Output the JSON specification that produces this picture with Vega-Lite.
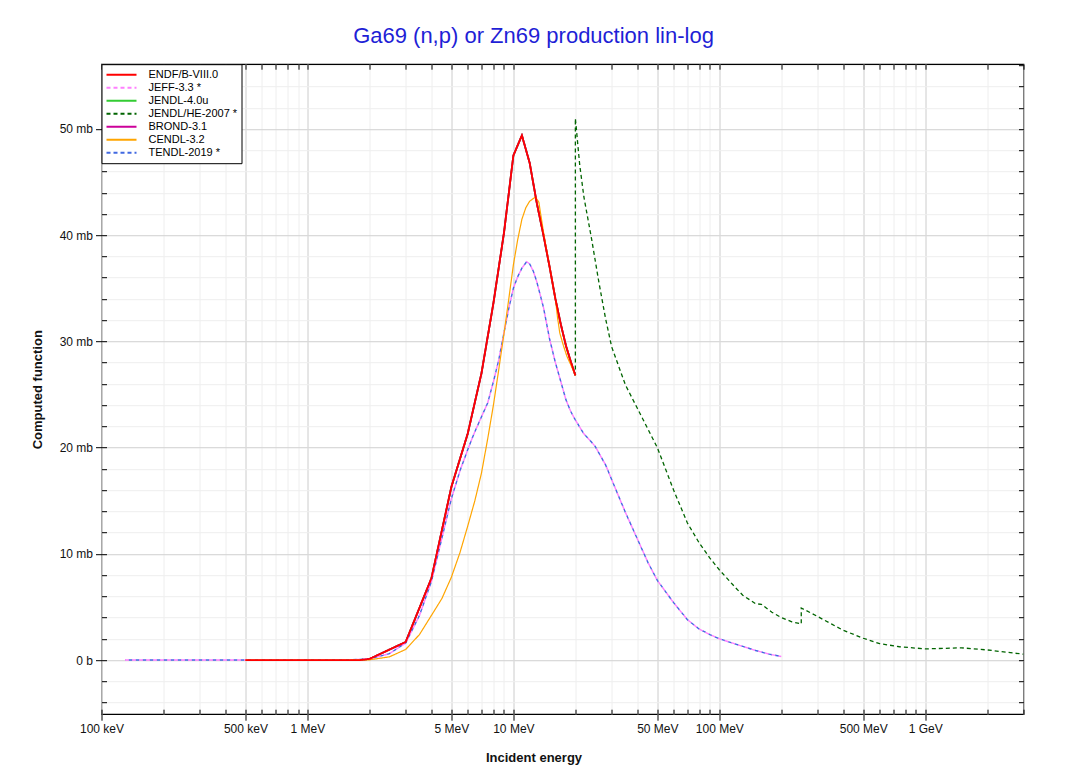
{
  "$schema": "https://vega.github.io/schema/vega-lite/v6.json",
  "width": 922,
  "height": 650,
  "autosize": {"type": "none"},
  "padding": {"left": 101.5, "top": 64.2, "right": 43.5, "bottom": 59.8},
  "background": "white",
  "title": {"text": "Ga69 (n,p) or Zn69 production lin-log", "font": "Liberation Sans", "fontSize": 22, "fontWeight": "normal", "color": "#1f1fd6", "anchor": "middle", "frame": "group", "dx": -29, "offset": 16},
  "data": {"values": [
    {"s": "ENDF/B-VIII.0", "e": 0.5, "v": 0}, {"s": "ENDF/B-VIII.0", "e": 1, "v": 0}, {"s": "ENDF/B-VIII.0", "e": 1.5, "v": 0}, {"s": "ENDF/B-VIII.0", "e": 1.8, "v": 0}, {"s": "ENDF/B-VIII.0", "e": 2, "v": 0.1}, {"s": "ENDF/B-VIII.0", "e": 3, "v": 1.7}, {"s": "ENDF/B-VIII.0", "e": 4, "v": 7.7}, {"s": "ENDF/B-VIII.0", "e": 5, "v": 16.3}, {"s": "ENDF/B-VIII.0", "e": 6, "v": 21.3}, {"s": "ENDF/B-VIII.0", "e": 7, "v": 27.0}, {"s": "ENDF/B-VIII.0", "e": 8, "v": 33.6}, {"s": "ENDF/B-VIII.0", "e": 9, "v": 40.2}, {"s": "ENDF/B-VIII.0", "e": 10, "v": 47.5}, {"s": "ENDF/B-VIII.0", "e": 11, "v": 49.4}, {"s": "ENDF/B-VIII.0", "e": 12, "v": 46.8}, {"s": "ENDF/B-VIII.0", "e": 13, "v": 43.0}, {"s": "ENDF/B-VIII.0", "e": 14, "v": 40.0}, {"s": "ENDF/B-VIII.0", "e": 15, "v": 37.0}, {"s": "ENDF/B-VIII.0", "e": 16, "v": 34.0}, {"s": "ENDF/B-VIII.0", "e": 17, "v": 31.6}, {"s": "ENDF/B-VIII.0", "e": 18, "v": 29.6}, {"s": "ENDF/B-VIII.0", "e": 19, "v": 28.1}, {"s": "ENDF/B-VIII.0", "e": 20, "v": 26.8},

    {"s": "JENDL-4.0u", "e": 0.5, "v": 0}, {"s": "JENDL-4.0u", "e": 1, "v": 0}, {"s": "JENDL-4.0u", "e": 1.5, "v": 0}, {"s": "JENDL-4.0u", "e": 1.8, "v": 0}, {"s": "JENDL-4.0u", "e": 2, "v": 0.1}, {"s": "JENDL-4.0u", "e": 3, "v": 1.7}, {"s": "JENDL-4.0u", "e": 4, "v": 7.7}, {"s": "JENDL-4.0u", "e": 5, "v": 16.3}, {"s": "JENDL-4.0u", "e": 6, "v": 21.3}, {"s": "JENDL-4.0u", "e": 7, "v": 27.0}, {"s": "JENDL-4.0u", "e": 8, "v": 33.6}, {"s": "JENDL-4.0u", "e": 9, "v": 40.2}, {"s": "JENDL-4.0u", "e": 10, "v": 47.5}, {"s": "JENDL-4.0u", "e": 11, "v": 49.4}, {"s": "JENDL-4.0u", "e": 12, "v": 46.8}, {"s": "JENDL-4.0u", "e": 13, "v": 43.0}, {"s": "JENDL-4.0u", "e": 14, "v": 40.0}, {"s": "JENDL-4.0u", "e": 15, "v": 37.0}, {"s": "JENDL-4.0u", "e": 16, "v": 34.0}, {"s": "JENDL-4.0u", "e": 17, "v": 31.6}, {"s": "JENDL-4.0u", "e": 18, "v": 29.6}, {"s": "JENDL-4.0u", "e": 19, "v": 28.1}, {"s": "JENDL-4.0u", "e": 20, "v": 26.8},

    {"s": "BROND-3.1", "e": 0.5, "v": 0}, {"s": "BROND-3.1", "e": 1, "v": 0}, {"s": "BROND-3.1", "e": 1.5, "v": 0}, {"s": "BROND-3.1", "e": 1.8, "v": 0}, {"s": "BROND-3.1", "e": 2, "v": 0.1}, {"s": "BROND-3.1", "e": 3, "v": 1.7}, {"s": "BROND-3.1", "e": 4, "v": 7.7}, {"s": "BROND-3.1", "e": 5, "v": 16.3}, {"s": "BROND-3.1", "e": 6, "v": 21.3}, {"s": "BROND-3.1", "e": 7, "v": 27.0}, {"s": "BROND-3.1", "e": 8, "v": 33.6}, {"s": "BROND-3.1", "e": 9, "v": 40.2}, {"s": "BROND-3.1", "e": 10, "v": 47.5}, {"s": "BROND-3.1", "e": 11, "v": 49.4}, {"s": "BROND-3.1", "e": 12, "v": 46.8}, {"s": "BROND-3.1", "e": 13, "v": 43.0}, {"s": "BROND-3.1", "e": 14, "v": 40.0}, {"s": "BROND-3.1", "e": 15, "v": 37.0}, {"s": "BROND-3.1", "e": 16, "v": 34.0}, {"s": "BROND-3.1", "e": 17, "v": 31.6}, {"s": "BROND-3.1", "e": 18, "v": 29.6}, {"s": "BROND-3.1", "e": 19, "v": 28.1}, {"s": "BROND-3.1", "e": 20, "v": 26.8},

    {"s": "JENDL/HE-2007 *", "i": 0, "e": 0.5, "v": 0}, {"s": "JENDL/HE-2007 *", "i": 1, "e": 1, "v": 0}, {"s": "JENDL/HE-2007 *", "i": 2, "e": 1.5, "v": 0}, {"s": "JENDL/HE-2007 *", "i": 3, "e": 1.8, "v": 0}, {"s": "JENDL/HE-2007 *", "i": 4, "e": 2, "v": 0.1}, {"s": "JENDL/HE-2007 *", "i": 5, "e": 3, "v": 1.7}, {"s": "JENDL/HE-2007 *", "i": 6, "e": 4, "v": 7.7}, {"s": "JENDL/HE-2007 *", "i": 7, "e": 5, "v": 16.3}, {"s": "JENDL/HE-2007 *", "i": 8, "e": 6, "v": 21.3}, {"s": "JENDL/HE-2007 *", "i": 9, "e": 7, "v": 27.0}, {"s": "JENDL/HE-2007 *", "i": 10, "e": 8, "v": 33.6}, {"s": "JENDL/HE-2007 *", "i": 11, "e": 9, "v": 40.2}, {"s": "JENDL/HE-2007 *", "i": 12, "e": 10, "v": 47.5}, {"s": "JENDL/HE-2007 *", "i": 13, "e": 11, "v": 49.4}, {"s": "JENDL/HE-2007 *", "i": 14, "e": 12, "v": 46.8}, {"s": "JENDL/HE-2007 *", "i": 15, "e": 13, "v": 43.0}, {"s": "JENDL/HE-2007 *", "i": 16, "e": 14, "v": 40.0}, {"s": "JENDL/HE-2007 *", "i": 17, "e": 15, "v": 37.0}, {"s": "JENDL/HE-2007 *", "i": 18, "e": 16, "v": 34.0}, {"s": "JENDL/HE-2007 *", "i": 19, "e": 17, "v": 31.6}, {"s": "JENDL/HE-2007 *", "i": 20, "e": 18, "v": 29.6}, {"s": "JENDL/HE-2007 *", "i": 21, "e": 19, "v": 28.1}, {"s": "JENDL/HE-2007 *", "i": 22, "e": 20, "v": 26.8},
    {"s": "JENDL/HE-2007 *", "i": 23, "e": 20, "v": 51.0}, {"s": "JENDL/HE-2007 *", "i": 24, "e": 21, "v": 46.6}, {"s": "JENDL/HE-2007 *", "i": 25, "e": 22, "v": 43.6}, {"s": "JENDL/HE-2007 *", "i": 26, "e": 24, "v": 39.6}, {"s": "JENDL/HE-2007 *", "i": 27, "e": 26, "v": 35.6}, {"s": "JENDL/HE-2007 *", "i": 28, "e": 28, "v": 32.2}, {"s": "JENDL/HE-2007 *", "i": 29, "e": 30, "v": 29.5}, {"s": "JENDL/HE-2007 *", "i": 30, "e": 35, "v": 25.9}, {"s": "JENDL/HE-2007 *", "i": 31, "e": 40, "v": 23.7}, {"s": "JENDL/HE-2007 *", "i": 32, "e": 50, "v": 20.0}, {"s": "JENDL/HE-2007 *", "i": 33, "e": 60, "v": 16.0}, {"s": "JENDL/HE-2007 *", "i": 34, "e": 70, "v": 12.9}, {"s": "JENDL/HE-2007 *", "i": 35, "e": 80, "v": 11.0}, {"s": "JENDL/HE-2007 *", "i": 36, "e": 90, "v": 9.6}, {"s": "JENDL/HE-2007 *", "i": 37, "e": 100, "v": 8.5}, {"s": "JENDL/HE-2007 *", "i": 38, "e": 120, "v": 6.8}, {"s": "JENDL/HE-2007 *", "i": 39, "e": 130, "v": 6.1}, {"s": "JENDL/HE-2007 *", "i": 40, "e": 150, "v": 5.3}, {"s": "JENDL/HE-2007 *", "i": 41, "e": 160, "v": 5.25}, {"s": "JENDL/HE-2007 *", "i": 42, "e": 180, "v": 4.5}, {"s": "JENDL/HE-2007 *", "i": 43, "e": 200, "v": 4.0}, {"s": "JENDL/HE-2007 *", "i": 44, "e": 225, "v": 3.6}, {"s": "JENDL/HE-2007 *", "i": 45, "e": 250, "v": 3.4}, {"s": "JENDL/HE-2007 *", "i": 46, "e": 250, "v": 4.9}, {"s": "JENDL/HE-2007 *", "i": 47, "e": 300, "v": 4.1}, {"s": "JENDL/HE-2007 *", "i": 48, "e": 350, "v": 3.4}, {"s": "JENDL/HE-2007 *", "i": 49, "e": 400, "v": 2.8}, {"s": "JENDL/HE-2007 *", "i": 50, "e": 500, "v": 2.05}, {"s": "JENDL/HE-2007 *", "i": 51, "e": 600, "v": 1.55}, {"s": "JENDL/HE-2007 *", "i": 52, "e": 750, "v": 1.25}, {"s": "JENDL/HE-2007 *", "i": 53, "e": 1000, "v": 1.05}, {"s": "JENDL/HE-2007 *", "i": 54, "e": 1500, "v": 1.15}, {"s": "JENDL/HE-2007 *", "i": 55, "e": 2000, "v": 0.95}, {"s": "JENDL/HE-2007 *", "i": 56, "e": 3000, "v": 0.55},

    {"s": "JEFF-3.3 *", "e": 0.13, "v": 0}, {"s": "JEFF-3.3 *", "e": 0.5, "v": 0}, {"s": "JEFF-3.3 *", "e": 1, "v": 0}, {"s": "JEFF-3.3 *", "e": 1.5, "v": 0}, {"s": "JEFF-3.3 *", "e": 2, "v": 0.1}, {"s": "JEFF-3.3 *", "e": 2.5, "v": 0.6}, {"s": "JEFF-3.3 *", "e": 3, "v": 1.6}, {"s": "JEFF-3.3 *", "e": 3.5, "v": 4.2}, {"s": "JEFF-3.3 *", "e": 4, "v": 7.4}, {"s": "JEFF-3.3 *", "e": 4.5, "v": 11.5}, {"s": "JEFF-3.3 *", "e": 5, "v": 15.2}, {"s": "JEFF-3.3 *", "e": 5.5, "v": 17.8}, {"s": "JEFF-3.3 *", "e": 6, "v": 19.8}, {"s": "JEFF-3.3 *", "e": 6.5, "v": 21.5}, {"s": "JEFF-3.3 *", "e": 7, "v": 22.9}, {"s": "JEFF-3.3 *", "e": 7.5, "v": 24.2}, {"s": "JEFF-3.3 *", "e": 8, "v": 26.2}, {"s": "JEFF-3.3 *", "e": 8.5, "v": 28.3}, {"s": "JEFF-3.3 *", "e": 9, "v": 30.8}, {"s": "JEFF-3.3 *", "e": 9.5, "v": 33.1}, {"s": "JEFF-3.3 *", "e": 10, "v": 35.0}, {"s": "JEFF-3.3 *", "e": 10.5, "v": 36.1}, {"s": "JEFF-3.3 *", "e": 11, "v": 36.9}, {"s": "JEFF-3.3 *", "e": 11.6, "v": 37.5}, {"s": "JEFF-3.3 *", "e": 12, "v": 37.3}, {"s": "JEFF-3.3 *", "e": 12.5, "v": 36.6}, {"s": "JEFF-3.3 *", "e": 13, "v": 35.6}, {"s": "JEFF-3.3 *", "e": 14, "v": 33.2}, {"s": "JEFF-3.3 *", "e": 15, "v": 30.2}, {"s": "JEFF-3.3 *", "e": 16, "v": 28.0}, {"s": "JEFF-3.3 *", "e": 17, "v": 26.2}, {"s": "JEFF-3.3 *", "e": 18, "v": 24.5}, {"s": "JEFF-3.3 *", "e": 19, "v": 23.4}, {"s": "JEFF-3.3 *", "e": 20, "v": 22.6}, {"s": "JEFF-3.3 *", "e": 22, "v": 21.3}, {"s": "JEFF-3.3 *", "e": 24, "v": 20.5}, {"s": "JEFF-3.3 *", "e": 25, "v": 20.1}, {"s": "JEFF-3.3 *", "e": 26, "v": 19.5}, {"s": "JEFF-3.3 *", "e": 28, "v": 18.4}, {"s": "JEFF-3.3 *", "e": 30, "v": 17.0}, {"s": "JEFF-3.3 *", "e": 35, "v": 13.9}, {"s": "JEFF-3.3 *", "e": 40, "v": 11.4}, {"s": "JEFF-3.3 *", "e": 45, "v": 9.2}, {"s": "JEFF-3.3 *", "e": 50, "v": 7.5}, {"s": "JEFF-3.3 *", "e": 60, "v": 5.4}, {"s": "JEFF-3.3 *", "e": 70, "v": 3.8}, {"s": "JEFF-3.3 *", "e": 80, "v": 2.9}, {"s": "JEFF-3.3 *", "e": 90, "v": 2.4}, {"s": "JEFF-3.3 *", "e": 100, "v": 2.0}, {"s": "JEFF-3.3 *", "e": 120, "v": 1.5}, {"s": "JEFF-3.3 *", "e": 150, "v": 0.9}, {"s": "JEFF-3.3 *", "e": 175, "v": 0.55}, {"s": "JEFF-3.3 *", "e": 200, "v": 0.33},

    {"s": "TENDL-2019 *", "e": 0.13, "v": 0}, {"s": "TENDL-2019 *", "e": 0.5, "v": 0}, {"s": "TENDL-2019 *", "e": 1, "v": 0}, {"s": "TENDL-2019 *", "e": 1.5, "v": 0}, {"s": "TENDL-2019 *", "e": 2, "v": 0.1}, {"s": "TENDL-2019 *", "e": 2.5, "v": 0.6}, {"s": "TENDL-2019 *", "e": 3, "v": 1.6}, {"s": "TENDL-2019 *", "e": 3.5, "v": 4.2}, {"s": "TENDL-2019 *", "e": 4, "v": 7.4}, {"s": "TENDL-2019 *", "e": 4.5, "v": 11.5}, {"s": "TENDL-2019 *", "e": 5, "v": 15.2}, {"s": "TENDL-2019 *", "e": 5.5, "v": 17.8}, {"s": "TENDL-2019 *", "e": 6, "v": 19.8}, {"s": "TENDL-2019 *", "e": 6.5, "v": 21.5}, {"s": "TENDL-2019 *", "e": 7, "v": 22.9}, {"s": "TENDL-2019 *", "e": 7.5, "v": 24.2}, {"s": "TENDL-2019 *", "e": 8, "v": 26.2}, {"s": "TENDL-2019 *", "e": 8.5, "v": 28.3}, {"s": "TENDL-2019 *", "e": 9, "v": 30.8}, {"s": "TENDL-2019 *", "e": 9.5, "v": 33.1}, {"s": "TENDL-2019 *", "e": 10, "v": 35.0}, {"s": "TENDL-2019 *", "e": 10.5, "v": 36.1}, {"s": "TENDL-2019 *", "e": 11, "v": 36.9}, {"s": "TENDL-2019 *", "e": 11.6, "v": 37.5}, {"s": "TENDL-2019 *", "e": 12, "v": 37.3}, {"s": "TENDL-2019 *", "e": 12.5, "v": 36.6}, {"s": "TENDL-2019 *", "e": 13, "v": 35.6}, {"s": "TENDL-2019 *", "e": 14, "v": 33.2}, {"s": "TENDL-2019 *", "e": 15, "v": 30.2}, {"s": "TENDL-2019 *", "e": 16, "v": 28.0}, {"s": "TENDL-2019 *", "e": 17, "v": 26.2}, {"s": "TENDL-2019 *", "e": 18, "v": 24.5}, {"s": "TENDL-2019 *", "e": 19, "v": 23.4}, {"s": "TENDL-2019 *", "e": 20, "v": 22.6}, {"s": "TENDL-2019 *", "e": 22, "v": 21.3}, {"s": "TENDL-2019 *", "e": 24, "v": 20.5}, {"s": "TENDL-2019 *", "e": 25, "v": 20.1}, {"s": "TENDL-2019 *", "e": 26, "v": 19.5}, {"s": "TENDL-2019 *", "e": 28, "v": 18.4}, {"s": "TENDL-2019 *", "e": 30, "v": 17.0}, {"s": "TENDL-2019 *", "e": 35, "v": 13.9}, {"s": "TENDL-2019 *", "e": 40, "v": 11.4}, {"s": "TENDL-2019 *", "e": 45, "v": 9.2}, {"s": "TENDL-2019 *", "e": 50, "v": 7.5}, {"s": "TENDL-2019 *", "e": 60, "v": 5.4}, {"s": "TENDL-2019 *", "e": 70, "v": 3.8}, {"s": "TENDL-2019 *", "e": 80, "v": 2.9}, {"s": "TENDL-2019 *", "e": 90, "v": 2.4}, {"s": "TENDL-2019 *", "e": 100, "v": 2.0}, {"s": "TENDL-2019 *", "e": 120, "v": 1.5}, {"s": "TENDL-2019 *", "e": 150, "v": 0.9}, {"s": "TENDL-2019 *", "e": 175, "v": 0.55}, {"s": "TENDL-2019 *", "e": 200, "v": 0.33},

    {"s": "CENDL-3.2", "e": 0.5, "v": 0}, {"s": "CENDL-3.2", "e": 1, "v": 0}, {"s": "CENDL-3.2", "e": 1.5, "v": 0}, {"s": "CENDL-3.2", "e": 2, "v": 0.02}, {"s": "CENDL-3.2", "e": 2.5, "v": 0.3}, {"s": "CENDL-3.2", "e": 3, "v": 1.0}, {"s": "CENDL-3.2", "e": 3.5, "v": 2.4}, {"s": "CENDL-3.2", "e": 4, "v": 4.2}, {"s": "CENDL-3.2", "e": 4.5, "v": 5.8}, {"s": "CENDL-3.2", "e": 5, "v": 7.8}, {"s": "CENDL-3.2", "e": 5.5, "v": 10.1}, {"s": "CENDL-3.2", "e": 6, "v": 12.6}, {"s": "CENDL-3.2", "e": 6.5, "v": 15.0}, {"s": "CENDL-3.2", "e": 7, "v": 17.6}, {"s": "CENDL-3.2", "e": 7.5, "v": 20.8}, {"s": "CENDL-3.2", "e": 8, "v": 24.0}, {"s": "CENDL-3.2", "e": 8.5, "v": 27.4}, {"s": "CENDL-3.2", "e": 9, "v": 30.7}, {"s": "CENDL-3.2", "e": 9.5, "v": 34.0}, {"s": "CENDL-3.2", "e": 10, "v": 37.2}, {"s": "CENDL-3.2", "e": 10.5, "v": 39.6}, {"s": "CENDL-3.2", "e": 11, "v": 41.5}, {"s": "CENDL-3.2", "e": 11.5, "v": 42.6}, {"s": "CENDL-3.2", "e": 12, "v": 43.2}, {"s": "CENDL-3.2", "e": 12.8, "v": 43.6}, {"s": "CENDL-3.2", "e": 13.3, "v": 43.1}, {"s": "CENDL-3.2", "e": 14, "v": 40.3}, {"s": "CENDL-3.2", "e": 14.5, "v": 38.6}, {"s": "CENDL-3.2", "e": 15, "v": 37.0}, {"s": "CENDL-3.2", "e": 15.5, "v": 35.5}, {"s": "CENDL-3.2", "e": 16, "v": 34.0}, {"s": "CENDL-3.2", "e": 16.4, "v": 32.2}, {"s": "CENDL-3.2", "e": 16.8, "v": 30.8}, {"s": "CENDL-3.2", "e": 17.5, "v": 29.6}, {"s": "CENDL-3.2", "e": 18.2, "v": 28.6}, {"s": "CENDL-3.2", "e": 19, "v": 27.8}, {"s": "CENDL-3.2", "e": 20, "v": 26.8}
  ]},
  "layer": [
    {
      "transform": [{"filter": "datum.s == 'JENDL/HE-2007 *'"}],
      "mark": {"type": "line", "strokeWidth": 1.3, "clip": true},
      "encoding": {
        "x": {"field": "e", "type": "quantitative", "scale": {"type": "log", "domain": [0.1, 3000], "nice": false},
          "axis": {"orient": "bottom", "values": [0.1,0.2,0.3,0.4,0.5,0.6,0.7,0.8,0.9,1,2,3,4,5,6,7,8,9,10,20,30,40,50,60,70,80,90,100,200,300,400,500,600,700,800,900,1000,2000,3000], "grid": true, "gridColor": "#eeeeee", "gridWidth": 1, "ticks": true, "tickSize": -5, "labels": false, "domain": false, "title": null}},
        "y": {"field": "v", "type": "quantitative", "scale": {"domain": [-5.1, 56.1], "nice": false, "zero": false},
          "axis": {"orient": "left", "values": [-4,-2,0,2,4,6,8,10,12,14,16,18,20,22,24,26,28,30,32,34,36,38,40,42,44,46,48,50,52,54,56], "grid": true, "gridColor": "#eeeeee", "gridWidth": 1, "ticks": true, "tickSize": -5, "labels": false, "domain": false, "title": null}},
        "order": {"field": "i", "type": "quantitative"},
        "color": {"field": "s", "type": "nominal", "scale": {"domain": ["ENDF/B-VIII.0", "JEFF-3.3 *", "JENDL-4.0u", "JENDL/HE-2007 *", "BROND-3.1", "CENDL-3.2", "TENDL-2019 *"], "range": ["#ff0000", "#ff80ff", "#33cc33", "#006400", "#cc0099", "#ffa500", "#4169e1"]}, "legend": {"title": null}},
        "strokeDash": {"field": "s", "type": "nominal", "scale": {"domain": ["ENDF/B-VIII.0", "JEFF-3.3 *", "JENDL-4.0u", "JENDL/HE-2007 *", "BROND-3.1", "CENDL-3.2", "TENDL-2019 *"], "range": [[1,0],[4,3],[1,0],[4,3],[1,0],[1,0],[4,3]]}, "legend": {"title": null}}
      }
    },
    {
      "transform": [{"filter": "datum.s == 'JENDL-4.0u'"}],
      "mark": {"type": "line", "strokeWidth": 1.8, "clip": true},
      "encoding": {
        "x": {"field": "e", "type": "quantitative", "scale": {"type": "log", "domain": [0.1, 3000], "nice": false},
          "axis": {"orient": "bottom", "values": [0.1,0.5,1,5,10,50,100,500,1000], "grid": true, "gridColor": "#d4d4d4", "gridWidth": 1, "ticks": true, "tickSize": 6, "labels": true, "labelFlush": false, "labelOverlap": false, "labelPadding": 3,
            "labelExpr": "datum.value < 1 ? round(datum.value*1000) + ' keV' : (datum.value < 1000 ? round(datum.value) + ' MeV' : round(datum.value/1000) + ' GeV')",
            "domain": false, "title": "Incident energy", "titleX": 432, "titlePadding": 17}},
        "y": {"field": "v", "type": "quantitative", "scale": {"domain": [-5.1, 56.1], "nice": false, "zero": false},
          "axis": {"orient": "left", "values": [0,10,20,30,40,50], "grid": true, "gridColor": "#d4d4d4", "gridWidth": 1, "ticks": true, "tickSize": 6, "labels": true, "labelFlush": false, "labelOverlap": false, "labelPadding": 3,
            "labelExpr": "datum.value == 0 ? '0 b' : datum.value + ' mb'",
            "domain": false, "title": "Computed function", "titlePadding": 15}},
        "color": {"field": "s", "type": "nominal", "scale": {"domain": ["ENDF/B-VIII.0", "JEFF-3.3 *", "JENDL-4.0u", "JENDL/HE-2007 *", "BROND-3.1", "CENDL-3.2", "TENDL-2019 *"], "range": ["#ff0000", "#ff80ff", "#33cc33", "#006400", "#cc0099", "#ffa500", "#4169e1"]}, "legend": {"title": null}},
        "strokeDash": {"field": "s", "type": "nominal", "scale": {"domain": ["ENDF/B-VIII.0", "JEFF-3.3 *", "JENDL-4.0u", "JENDL/HE-2007 *", "BROND-3.1", "CENDL-3.2", "TENDL-2019 *"], "range": [[1,0],[4,3],[1,0],[4,3],[1,0],[1,0],[4,3]]}, "legend": {"title": null}}
      }
    },
    {
      "transform": [{"filter": "datum.s == 'BROND-3.1'"}],
      "mark": {"type": "line", "strokeWidth": 1.8, "clip": true},
      "encoding": {
        "x": {"field": "e", "type": "quantitative", "scale": {"type": "log", "domain": [0.1, 3000], "nice": false},
          "axis": {"orient": "top", "values": [0.1,0.2,0.3,0.4,0.5,0.6,0.7,0.8,0.9,1,2,3,4,5,6,7,8,9,10,20,30,40,50,60,70,80,90,100,200,300,400,500,600,700,800,900,1000,2000,3000], "grid": false, "ticks": true, "tickSize": -5, "labels": false, "domain": false, "title": null}},
        "y": {"field": "v", "type": "quantitative", "scale": {"domain": [-5.1, 56.1], "nice": false, "zero": false},
          "axis": {"orient": "right", "values": [-4,-2,0,2,4,6,8,10,12,14,16,18,20,22,24,26,28,30,32,34,36,38,40,42,44,46,48,50,52,54,56], "grid": false, "ticks": true, "tickSize": -5, "labels": false, "domain": false, "title": null}},
        "color": {"field": "s", "type": "nominal", "scale": {"domain": ["ENDF/B-VIII.0", "JEFF-3.3 *", "JENDL-4.0u", "JENDL/HE-2007 *", "BROND-3.1", "CENDL-3.2", "TENDL-2019 *"], "range": ["#ff0000", "#ff80ff", "#33cc33", "#006400", "#cc0099", "#ffa500", "#4169e1"]}, "legend": {"title": null}},
        "strokeDash": {"field": "s", "type": "nominal", "scale": {"domain": ["ENDF/B-VIII.0", "JEFF-3.3 *", "JENDL-4.0u", "JENDL/HE-2007 *", "BROND-3.1", "CENDL-3.2", "TENDL-2019 *"], "range": [[1,0],[4,3],[1,0],[4,3],[1,0],[1,0],[4,3]]}, "legend": {"title": null}}
      }
    },
    {
      "transform": [{"filter": "datum.s == 'TENDL-2019 *'"}],
      "mark": {"type": "line", "strokeWidth": 1.4, "strokeDashOffset": 3.5, "clip": true},
      "encoding": {
        "x": {"field": "e", "type": "quantitative", "scale": {"type": "log", "domain": [0.1, 3000], "nice": false}, "axis": null},
        "y": {"field": "v", "type": "quantitative", "scale": {"domain": [-5.1, 56.1], "nice": false, "zero": false}, "axis": null},
        "color": {"field": "s", "type": "nominal", "scale": {"domain": ["ENDF/B-VIII.0", "JEFF-3.3 *", "JENDL-4.0u", "JENDL/HE-2007 *", "BROND-3.1", "CENDL-3.2", "TENDL-2019 *"], "range": ["#ff0000", "#ff80ff", "#33cc33", "#006400", "#cc0099", "#ffa500", "#4169e1"]}, "legend": {"title": null}},
        "strokeDash": {"field": "s", "type": "nominal", "scale": {"domain": ["ENDF/B-VIII.0", "JEFF-3.3 *", "JENDL-4.0u", "JENDL/HE-2007 *", "BROND-3.1", "CENDL-3.2", "TENDL-2019 *"], "range": [[1,0],[4,3],[1,0],[4,3],[1,0],[1,0],[4,3]]}, "legend": {"title": null}}
      }
    },
    {
      "transform": [{"filter": "datum.s == 'JEFF-3.3 *'"}],
      "mark": {"type": "line", "strokeWidth": 1.4, "clip": true},
      "encoding": {
        "x": {"field": "e", "type": "quantitative", "scale": {"type": "log", "domain": [0.1, 3000], "nice": false}, "axis": null},
        "y": {"field": "v", "type": "quantitative", "scale": {"domain": [-5.1, 56.1], "nice": false, "zero": false}, "axis": null},
        "color": {"field": "s", "type": "nominal", "scale": {"domain": ["ENDF/B-VIII.0", "JEFF-3.3 *", "JENDL-4.0u", "JENDL/HE-2007 *", "BROND-3.1", "CENDL-3.2", "TENDL-2019 *"], "range": ["#ff0000", "#ff80ff", "#33cc33", "#006400", "#cc0099", "#ffa500", "#4169e1"]}, "legend": {"title": null}},
        "strokeDash": {"field": "s", "type": "nominal", "scale": {"domain": ["ENDF/B-VIII.0", "JEFF-3.3 *", "JENDL-4.0u", "JENDL/HE-2007 *", "BROND-3.1", "CENDL-3.2", "TENDL-2019 *"], "range": [[1,0],[4,3],[1,0],[4,3],[1,0],[1,0],[4,3]]}, "legend": {"title": null}}
      }
    },
    {
      "transform": [{"filter": "datum.s == 'CENDL-3.2'"}],
      "mark": {"type": "line", "strokeWidth": 1.2, "clip": true},
      "encoding": {
        "x": {"field": "e", "type": "quantitative", "scale": {"type": "log", "domain": [0.1, 3000], "nice": false}, "axis": null},
        "y": {"field": "v", "type": "quantitative", "scale": {"domain": [-5.1, 56.1], "nice": false, "zero": false}, "axis": null},
        "color": {"field": "s", "type": "nominal", "scale": {"domain": ["ENDF/B-VIII.0", "JEFF-3.3 *", "JENDL-4.0u", "JENDL/HE-2007 *", "BROND-3.1", "CENDL-3.2", "TENDL-2019 *"], "range": ["#ff0000", "#ff80ff", "#33cc33", "#006400", "#cc0099", "#ffa500", "#4169e1"]}, "legend": {"title": null}},
        "strokeDash": {"field": "s", "type": "nominal", "scale": {"domain": ["ENDF/B-VIII.0", "JEFF-3.3 *", "JENDL-4.0u", "JENDL/HE-2007 *", "BROND-3.1", "CENDL-3.2", "TENDL-2019 *"], "range": [[1,0],[4,3],[1,0],[4,3],[1,0],[1,0],[4,3]]}, "legend": {"title": null}}
      }
    },
    {
      "transform": [{"filter": "datum.s == 'ENDF/B-VIII.0'"}],
      "mark": {"type": "line", "strokeWidth": 1.8, "clip": true},
      "encoding": {
        "x": {"field": "e", "type": "quantitative", "scale": {"type": "log", "domain": [0.1, 3000], "nice": false}, "axis": null},
        "y": {"field": "v", "type": "quantitative", "scale": {"domain": [-5.1, 56.1], "nice": false, "zero": false}, "axis": null},
        "color": {"field": "s", "type": "nominal", "scale": {"domain": ["ENDF/B-VIII.0", "JEFF-3.3 *", "JENDL-4.0u", "JENDL/HE-2007 *", "BROND-3.1", "CENDL-3.2", "TENDL-2019 *"], "range": ["#ff0000", "#ff80ff", "#33cc33", "#006400", "#cc0099", "#ffa500", "#4169e1"]}, "legend": {"title": null}},
        "strokeDash": {"field": "s", "type": "nominal", "scale": {"domain": ["ENDF/B-VIII.0", "JEFF-3.3 *", "JENDL-4.0u", "JENDL/HE-2007 *", "BROND-3.1", "CENDL-3.2", "TENDL-2019 *"], "range": [[1,0],[4,3],[1,0],[4,3],[1,0],[1,0],[4,3]]}, "legend": {"title": null}}
      }
    }
  ],
  "resolve": {"axis": {"x": "independent", "y": "independent"}},
  "config": {
    "view": {"stroke": "#000000", "strokeWidth": 1.3},
    "axis": {"labelFont": "Liberation Sans", "labelFontSize": 12, "labelColor": "#111111", "titleFont": "Liberation Sans", "titleFontSize": 13, "titleFontWeight": "bold", "titleColor": "#111111", "tickColor": "#000000", "tickWidth": 1},
    "legend": {"orient": "top-left", "offset": 0, "padding": 4, "strokeColor": "#000000", "fillColor": "#ffffff", "cornerRadius": 0, "symbolType": "stroke", "symbolSize": 900, "symbolStrokeWidth": 2, "labelFont": "Liberation Sans", "labelFontSize": 11, "labelColor": "#000000", "labelOffset": 11, "clipHeight": 13, "rowPadding": 0}
  }
}
